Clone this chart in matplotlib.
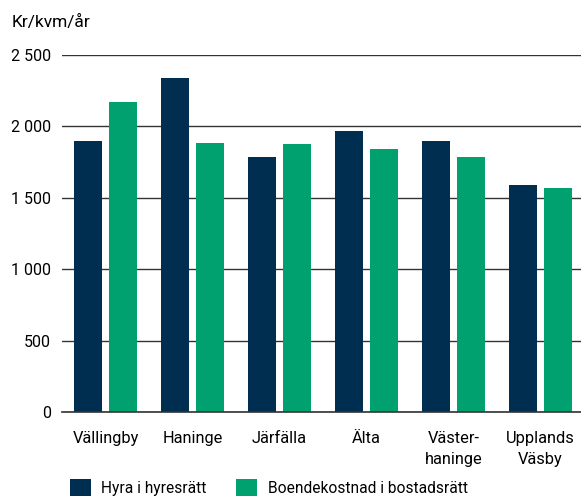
import matplotlib
matplotlib.use('Agg')
import matplotlib.pyplot as plt
import numpy as np
from matplotlib.ticker import FuncFormatter

plt.rcParams['font.family'] = ['Roboto', 'DejaVu Sans']

areas = ['Vällingby', 'Haninge', 'Järfälla', 'Älta', 'Väster-\nhaninge', 'Upplands\nVäsby']
hyra = [1900, 2340, 1785, 1970, 1900, 1590]
boende = [2170, 1885, 1875, 1840, 1785, 1570]
series_names = ['Hyra i hyresrätt', 'Boendekostnad i bostadsrätt']
yticks = [0, 500, 1000, 1500, 2000, 2500]

dark = '#002E51'
green = '#00A06F'

fig = plt.figure(figsize=(5.81, 4.99), dpi=100)
ax = fig.add_axes([0.1067, 0.1743, 0.8933, 0.7155])

x = np.arange(len(areas))
w = 0.322
off = 0.201
ax.bar(x - off, hyra, width=w, color=dark, label=series_names[0], zorder=3)
ax.bar(x + off, boende, width=w, color=green, label=series_names[1], zorder=3)

ax.set_xlim(-0.5, 5.466)
ax.set_ylim(0, 2500)
ax.set_yticks(yticks)
ax.yaxis.set_major_formatter(FuncFormatter(lambda v, p: f'{int(v):,}'.replace(',', ' ')))
ax.grid(axis='y', color='#333333', linewidth=1.0, zorder=1)
ax.set_axisbelow(True)
for s in ax.spines.values():
    s.set_visible(False)
ax.tick_params(axis='y', length=0, pad=8, labelsize=11.5)
ax.tick_params(axis='x', length=0, pad=14, labelsize=11.8)
ax.set_xticks(x)
ax.set_xticklabels(areas, linespacing=1.45)
ax.axhline(0, color='#333333', linewidth=1.2, zorder=4, clip_on=False)

fig.text(0.02, 0.955, 'Kr/kvm/år', fontsize=12.5, ha='left', va='center')

fig.legend(loc='lower left', bbox_to_anchor=(0.097, -0.022), ncol=2, frameon=False,
           fontsize=11.2, handlelength=1.3, handleheight=1.3, columnspacing=1.9,
           handletextpad=0.7)

fig.savefig('out.png', dpi=100)
